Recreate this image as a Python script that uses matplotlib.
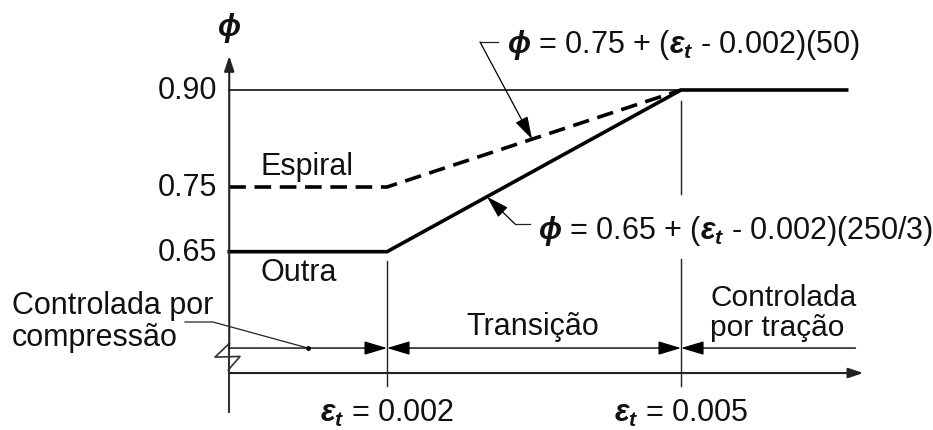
import matplotlib
matplotlib.use("Agg")
import matplotlib.pyplot as plt

plt.rcParams['font.family'] = ['Liberation Sans', 'DejaVu Sans']
plt.rcParams['mathtext.fontset'] = 'custom'
plt.rcParams['mathtext.rm'] = 'Liberation Sans'
plt.rcParams['mathtext.it'] = 'Liberation Sans:italic:bold'
plt.rcParams['mathtext.bf'] = 'Liberation Sans:bold'

# data
eps_limits = [0.002, 0.005]               # compressao / tracao limits
phi_ticks = [0.65, 0.75, 0.90]
tick_labels = ['0.65', '0.75', '0.90']
eps_start = 0.00039                        # where the phi axis sits
eps_end = 0.00669                          # end of the drawn curves
outra_eps = [eps_start, 0.002, 0.005, eps_end]
outra_phi = [0.65, 0.65, 0.90, 0.90]
espiral_eps = [eps_start, 0.002, 0.005]
espiral_phi = [0.75, 0.75, 0.90]
eps_labels = [r'$\varepsilon_t$ = 0.002', r'$\varepsilon_t$ = 0.005']
PHI = r'$\phi$'

TXT = '#111111'
FS = 22

fig = plt.figure(figsize=(9.33, 4.31), dpi=100)
ax = fig.add_axes([0, 0, 1, 1])
ax.set_xlim(-0.001949, 0.007571)
ax.set_ylim(0.3743, 1.0407)
ax.axis('off')

y_dim = 0.501      # dimension line level
y_axis = 0.4624    # horizontal axis level

# phi axis with break
ax.plot([eps_start, eps_start], [0.402, 0.508], color='#333333', lw=1.5)
ax.plot([eps_start, 0.000245, 0.000500, eps_start - 0.00001, eps_start],
        [0.508, 0.487, 0.488, 0.467, 0.467], color='#333333', lw=1.2)
ax.annotate('', xy=(eps_start, 0.9526), xytext=(eps_start, 0.505),
            arrowprops=dict(arrowstyle='-|>,head_length=0.9,head_width=0.3',
                            color='#222222', lw=1.5, shrinkA=0, shrinkB=0))
# eps axis
ax.annotate('', xy=(0.00686, y_axis), xytext=(eps_start, y_axis),
            arrowprops=dict(arrowstyle='-|>,head_length=0.9,head_width=0.3',
                            color='#222222', lw=1.5, shrinkA=0, shrinkB=0))

# tick labels
for p, lab in zip(phi_ticks, tick_labels):
    ax.text(0.000265, p, lab, ha='right', va='center', fontsize=FS, color=TXT)
ax.text(eps_start, 0.9974, PHI, ha='center', va='center', fontsize=FS, color=TXT)

# thin 0.90 reference line
ax.plot([eps_start, eps_limits[1]], [0.90, 0.90], color='#333333', lw=1.4)

# curves
ax.plot(outra_eps, outra_phi, color='black', lw=2.6, solid_joinstyle='miter')
ax.plot(espiral_eps, espiral_phi, color='black', lw=2.6, dashes=(4.6, 2.4))

# vertical limit lines
ax.plot([eps_limits[0]] * 2, [0.4423, 0.6356], color='#222222', lw=1.0)
ax.plot([eps_limits[1]] * 2, [0.739, 0.883], color='#222222', lw=1.0)
ax.plot([eps_limits[1]] * 2, [0.4423, 0.639], color='#222222', lw=1.0)

# dimension lines
dim_style = dict(color='black', lw=1.0, shrinkA=0, shrinkB=0,
                 mutation_scale=14)
ax.annotate('', xy=(eps_limits[0], y_dim), xytext=(eps_start, y_dim),
            arrowprops=dict(arrowstyle='-|>,head_length=1.0,head_width=0.3', **dim_style))
ax.annotate('', xy=(eps_limits[1], y_dim), xytext=(eps_limits[0], y_dim),
            arrowprops=dict(arrowstyle='<|-|>,head_length=1.0,head_width=0.3', **dim_style))
ax.annotate('', xy=(eps_limits[1], y_dim), xytext=(0.00678, y_dim),
            arrowprops=dict(arrowstyle='-|>,head_length=1.0,head_width=0.3', **dim_style))

# region labels
ax.text(0.000704, 0.7825, 'Espiral', ha='left', va='center', fontsize=FS, color=TXT)
ax.text(0.000704, 0.6186, 'Outra', ha='left', va='center', fontsize=FS, color=TXT)
ax.text(-0.001827, 0.5428, 'Controlada por\ncompressão', ha='left', va='center',
        fontsize=FS, color=TXT, linespacing=1.05)
ax.plot([-0.0000612, 0.000224, 0.001194], [0.5413, 0.5413, y_dim], color='#222222', lw=0.9)
ax.plot([0.001194], [y_dim], 'o', color='black', ms=2.5)
ax.text(0.00349, 0.535, 'Transição', ha='center', va='center', fontsize=FS, color=TXT)
ax.text(0.0053, 0.5567, 'Controlada\npor tração', ha='left', va='center',
        fontsize=FS - 0.5, color=TXT, linespacing=1.05)

# eps labels
for e, lab in zip(eps_limits, eps_labels):
    ax.text(e, 0.402, lab, ha='center', va='center', fontsize=FS, color=TXT)

# formulas with leaders
ax.text(0.003224, 0.971, PHI + r' = 0.75 + ($\varepsilon_t$ - 0.002)(50)',
        ha='left', va='center', fontsize=FS, color=TXT)
ax.plot([0.003133, 0.002949], [0.9742, 0.9742], color='#222222', lw=0.9)
e1 = 0.00348
ax.annotate('', xy=(e1, 0.75 + (e1 - 0.002) * 50), xytext=(0.002949, 0.9742),
            arrowprops=dict(arrowstyle='-|>,head_length=1.0,head_width=0.3',
                            color='black', lw=0.9, shrinkA=0, shrinkB=0, mutation_scale=14))

ax.text(0.00354, 0.6835, PHI + r' = 0.65 + ($\varepsilon_t$ - 0.002)(250/3)',
        ha='left', va='center', fontsize=FS, color=TXT)
ax.plot([0.003459, 0.003306], [0.6928, 0.6928], color='#222222', lw=0.9)
e2 = 0.00302
ax.annotate('', xy=(e2, 0.65 + (e2 - 0.002) * 250 / 3), xytext=(0.003306, 0.6928),
            arrowprops=dict(arrowstyle='-|>,head_length=1.0,head_width=0.3',
                            color='black', lw=0.9, shrinkA=0, shrinkB=0, mutation_scale=14))

fig.savefig('out.png', dpi=100)
